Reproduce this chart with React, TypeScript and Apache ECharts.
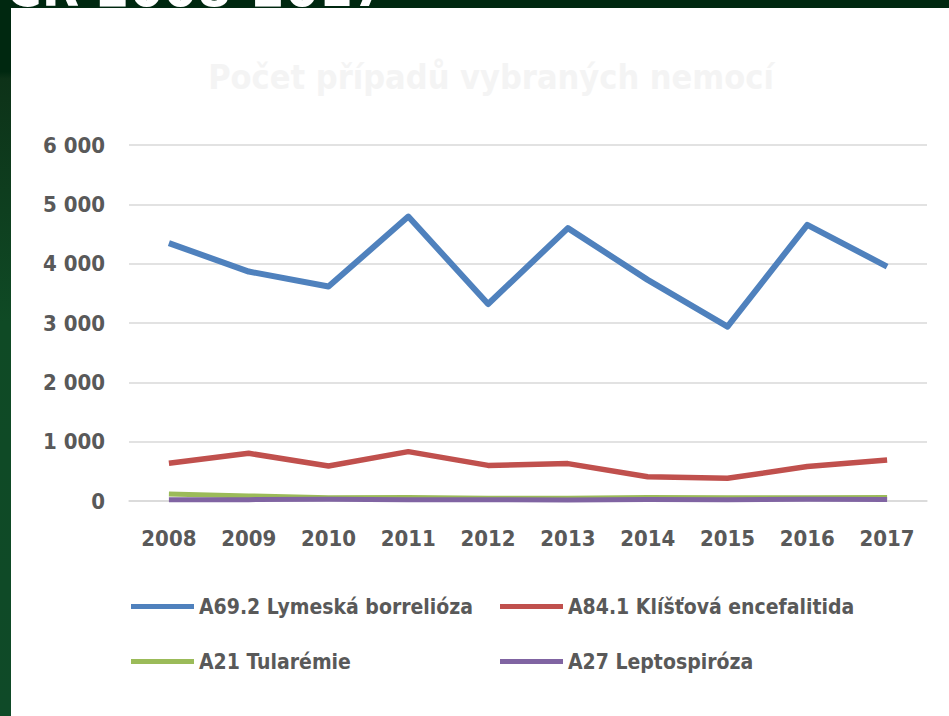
import React, { useEffect, useRef } from "react";
import * as echarts from "echarts";

const years = ["2008", "2009", "2010", "2011", "2012", "2013", "2014", "2015", "2016", "2017"];
const lyme = [4346, 3867, 3614, 4794, 3320, 4599, 3727, 2940, 4654, 3951];
const tbe = [636, 804, 590, 832, 600, 630, 410, 383, 580, 691];
const tularemia = [118, 85, 55, 58, 45, 45, 60, 55, 55, 60];
const lepto = [23, 23, 30, 19, 21, 15, 27, 21, 28, 25];
const seriesNames = [
  "A69.2 Lymeská borrelióza",
  "A84.1 Klíšťová encefalitida",
  "A21 Tularémie",
  "A27 Leptospiróza",
];
const colors = ["#4f81bd", "#c0504d", "#9bbb59", "#8064a2"];
const chartTitle = "Počet případů vybraných nemocí";
const slideTitle = "ČR 2008-2017";

const FONT = "'DejaVu Sans Condensed', 'DejaVu Sans', sans-serif";

export default function App() {
  const ref = useRef<HTMLDivElement>(null);
  useEffect(() => {
    if (!ref.current) return;
    const chart = echarts.init(ref.current, undefined, { renderer: "svg" });
    const data = [lyme, tbe, tularemia, lepto];
    const widths = [6, 5.5, 5, 5];
    chart.setOption({
      animation: false,
      backgroundColor: "#002810",
      graphic: [
        {
          type: "rect",
          shape: { x: 0, y: 0, width: 11, height: 716 },
          style: {
            fill: new echarts.graphic.LinearGradient(0, 0, 0, 1, [
              { offset: 0, color: "#002810" },
              { offset: 0.1, color: "#002810" },
              { offset: 0.11, color: "#0d3218" },
              { offset: 0.45, color: "#0f4a25" },
              { offset: 1, color: "#0f4a28" },
            ]),
          },
          z: -10,
        },
        {
          type: "text",
          x: 6,
          y: 14,
          style: {
            text: slideTitle,
            fill: "#ffffff",
            font: "bold 54px 'DejaVu Sans Condensed', sans-serif",
            textVerticalAlign: "bottom",
          },
          z: -8,
        },
        {
          type: "rect",
          shape: { x: 11, y: 8, width: 938, height: 708 },
          style: { fill: "#ffffff" },
          z: -5,
        },
        {
          type: "text",
          x: 491,
          y: 77,
          style: {
            text: chartTitle,
            fill: "#f4f4f4",
            font: "bold 34px " + FONT,
            textAlign: "center",
            textVerticalAlign: "middle",
          },
        },
      ],
      grid: { left: 129, right: 22, top: 145, bottom: 215, containLabel: false },
      xAxis: {
        type: "category",
        data: years,
        boundaryGap: true,
        axisLine: { show: true, lineStyle: { color: "#d9d9d9", width: 1.5 } },
        axisTick: { show: false },
        axisLabel: {
          color: "#595959",
          fontFamily: FONT,
          fontSize: 22,
          fontWeight: "bold",
          margin: 26,
        },
      },
      yAxis: {
        type: "value",
        min: 0,
        max: 6000,
        interval: 1000,
        axisLine: { show: false },
        axisTick: { show: false },
        splitLine: { lineStyle: { color: "#d9d9d9", width: 1.5 } },
        axisLabel: {
          color: "#595959",
          fontFamily: FONT,
          fontSize: 22,
          fontWeight: "bold",
          margin: 24,
          formatter: (v: number) => String(v).replace(/\B(?=(\d{3})+(?!\d))/g, " "),
        },
      },
      legend: [
        {
          orient: "vertical",
          left: 131,
          top: 596,
          padding: 0,
          itemGap: 34,
          itemWidth: 63,
          itemHeight: 5,
          icon: "rect",
          data: [seriesNames[0], seriesNames[2]],
          textStyle: { color: "#595959", fontFamily: FONT, fontSize: 21, fontWeight: "bold" },
        },
        {
          orient: "vertical",
          left: 500,
          top: 596,
          padding: 0,
          itemGap: 34,
          itemWidth: 63,
          itemHeight: 5,
          icon: "rect",
          data: [seriesNames[1], seriesNames[3]],
          textStyle: { color: "#595959", fontFamily: FONT, fontSize: 21, fontWeight: "bold" },
        },
      ],
      series: data.map((d, i) => ({
        name: seriesNames[i],
        type: "line",
        data: d,
        color: colors[i],
        showSymbol: false,
        symbol: "none",
        lineStyle: { color: colors[i], width: widths[i], join: "round", cap: "butt" },
      })),
    });
    return () => chart.dispose();
  }, []);
  return (
    <div
      ref={ref}
      style={{ position: "fixed", left: 0, top: 0, width: 949, height: 716 }}
    />
  );
}
